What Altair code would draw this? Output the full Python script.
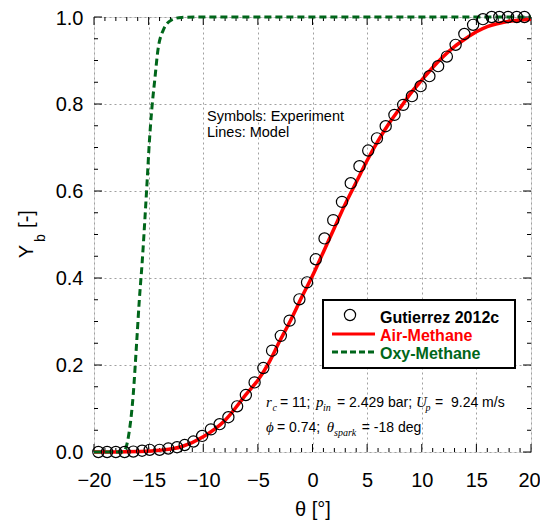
import altair as alt
import pandas as pd

# ---------------- data ----------------
exp_theta = [-19.6, -18.8, -18.0, -17.2, -16.4, -15.6, -14.9, -14.0, -13.2, -12.4,
             -11.7, -10.9, -10.1, -9.3, -8.5, -7.7, -6.9, -6.1, -5.3, -4.5,
             -3.7, -2.9, -2.1, -1.2, -0.5, 0.3, 1.1, 1.9, 2.7, 3.5,
             4.3, 5.1, 5.9, 6.7, 7.5, 8.3, 9.1, 9.9, 10.7, 11.5,
             12.3, 13.1, 13.9, 14.7, 15.6, 16.4, 17.1, 17.9, 18.7, 19.4]
exp_yb = [0.0, 0.0, 0.0, 0.0, 0.001, 0.003, 0.005, 0.005, 0.008, 0.011,
          0.016, 0.024, 0.037, 0.052, 0.064, 0.080, 0.105, 0.131, 0.160, 0.193,
          0.233, 0.267, 0.302, 0.351, 0.390, 0.443, 0.491, 0.533, 0.575, 0.618,
          0.657, 0.693, 0.721, 0.749, 0.775, 0.798, 0.818, 0.841, 0.864, 0.887,
          0.909, 0.936, 0.961, 0.982, 0.995, 1.0, 1.0, 1.0, 1.0, 1.0]

air_theta = [-20, -18, -16, -14, -12, -10, -8, -6, -5, -4, -3, -2, -1, 0, 1, 2, 3, 4, 5,
             6, 7, 8, 9, 10, 11, 12, 13, 14, 15, 16, 17, 18, 19, 20]
air_yb = [0.0, 0.0, 0.001, 0.004, 0.012, 0.035, 0.073, 0.135, 0.165, 0.205, 0.255,
          0.303, 0.355, 0.405, 0.46, 0.515, 0.57, 0.62, 0.67, 0.715, 0.755, 0.79,
          0.825, 0.855, 0.884, 0.91, 0.932, 0.95, 0.966, 0.978, 0.985, 0.99, 0.993, 0.995]

oxy_theta = [-20, -18, -17.3, -17.1, -16.85, -16.4, -16.1, -15.85, -15.58, -15.33,
             -15.12, -14.94, -14.72, -14.42, -14.17, -13.66, -12.9, -12, -10, 20]
oxy_yb = [0.0, 0.0, 0.0, 0.008, 0.035, 0.135, 0.25, 0.35, 0.44, 0.54,
          0.63, 0.71, 0.785, 0.86, 0.92, 0.97, 0.993, 0.999, 1.0, 1.0]

x_major = [-20, -15, -10, -5, 0, 5, 10, 15, 20]
x_minor = [v for v in range(-20, 21) if v % 5 != 0]
y_major = [0.0, 0.2, 0.4, 0.6, 0.8, 1.0]
y_minor = [round(i * 0.05, 2) for i in range(21) if i % 4 != 0]

RED = "#ff0000"
GREEN = "#00661a"
W, H = 437, 435
SANS = "Liberation Sans"
SERIF = "Liberation Serif"

exp_df = pd.DataFrame({"theta": exp_theta, "yb": exp_yb})
air_df = pd.DataFrame({"theta": air_theta, "yb": air_yb})
oxy_df = pd.DataFrame({"theta": oxy_theta, "yb": oxy_yb})
one = pd.DataFrame({"k": [0]})

xs = alt.Scale(domain=[-20, 20], nice=False, zero=False)
ys = alt.Scale(domain=[0, 1], nice=False)

# axis with labels + grid (on points layer)
ax_x_lab = alt.Axis(orient="bottom", values=x_major, ticks=False, tickSize=0, domain=False,
                    labelFontSize=20, labelPadding=18, labelColor="black", labelFlush=False,
                    labelOffset={"condition": {"test": "datum.value >= 20", "value": -2},
                                 "value": 0},
                    grid=True, gridDash=[2, 3], gridColor="#a0a0a0", gridWidth=1,
                    title="θ [°]", titleFontSize=20, titleFontWeight="normal",
                    titleColor="black", titlePadding=9)
ax_y_lab = alt.Axis(orient="left", values=y_major, format=".1f", ticks=False, tickSize=0,
                    domain=False, labelFontSize=20, labelPadding=11, labelColor="black",
                    labelFlush=False,
                    labelOffset={"condition": {"test": "datum.value >= 1", "value": 1.5},
                                 "value": 0},
                    grid=True, gridDash=[2, 3], gridColor="#a0a0a0", gridWidth=1, title=None)


# inward tick marks drawn through the scales
def xticks(values, y0, y1):
    df = pd.DataFrame({"v": values})
    return alt.Chart(df).mark_rule(color="black", strokeWidth=1).encode(
        x=alt.X("v:Q", scale=xs, axis=None), y=alt.value(y0), y2=alt.value(y1))


def yticks(values, x0, x1):
    df = pd.DataFrame({"v": values})
    return alt.Chart(df).mark_rule(color="black", strokeWidth=1).encode(
        y=alt.Y("v:Q", scale=ys, axis=None), x=alt.value(x0), x2=alt.value(x1))


tick_layers = [
    xticks(x_major, H, H - 8), xticks(x_minor, H, H - 4),
    xticks(x_major, 0, 8), xticks(x_minor, 0, 4),
    yticks(y_major, 0, 8), yticks(y_minor, 0, 4),
    yticks(y_major, W, W - 8), yticks(y_minor, W, W - 4),
]

air = alt.Chart(air_df).mark_line(color=RED, strokeWidth=3.5, interpolate="monotone").encode(
    x=alt.X("theta:Q", scale=xs, axis=None),
    y=alt.Y("yb:Q", scale=ys, axis=None),
)
oxy = alt.Chart(oxy_df).mark_line(color=GREEN, strokeWidth=3, strokeDash=[7, 4],
                                  interpolate="monotone").encode(
    x=alt.X("theta:Q", scale=xs, axis=None),
    y=alt.Y("yb:Q", scale=ys, axis=None),
)
pts = alt.Chart(exp_df).mark_point(shape="circle", filled=False, size=125, color="black",
                                   strokeWidth=1.2, opacity=1).encode(
    x=alt.X("theta:Q", scale=xs, axis=ax_x_lab),
    y=alt.Y("yb:Q", scale=ys, axis=ax_y_lab),
)


def txt(s, x, y, size, font=SANS, style="normal", weight="normal", color="black",
        angle=0, align="left", baseline="alphabetic"):
    return alt.Chart(one).mark_text(text=s, font=font, fontSize=size, fontStyle=style,
                                    fontWeight=weight, color=color, angle=angle,
                                    align=align, baseline=baseline).encode(
        x=alt.value(x), y=alt.value(y))


# legend box
leg_box = alt.Chart(one).mark_rect(fill="white", stroke="black", strokeWidth=2).encode(
    x=alt.value(229), x2=alt.value(421), y=alt.value(283), y2=alt.value(351))
leg_pt = alt.Chart(one).mark_point(shape="circle", filled=False, size=125, color="black",
                                   strokeWidth=1.2, opacity=1).encode(
    x=alt.value(256), y=alt.value(298))
leg_red = alt.Chart(one).mark_rule(color=RED, strokeWidth=3).encode(
    x=alt.value(238), x2=alt.value(281), y=alt.value(317))
leg_green = alt.Chart(one).mark_rule(color=GREEN, strokeWidth=3, strokeDash=[6, 3]).encode(
    x=alt.value(238), x2=alt.value(281), y=alt.value(335))

texts = [
    txt("Gutierrez 2012c", 286, 305.7, 16, weight="bold"),
    txt("Air-Methane", 286, 323.5, 16, weight="bold", color=RED),
    txt("Oxy-Methane", 286, 341.5, 16, weight="bold", color=GREEN),
    txt("Symbols: Experiment", 113, 103.7, 14.5),
    txt("Lines: Model", 113, 120.3, 14.5),
    # parameter annotation, line 1
    txt("r", 172, 389.7, 15, font=SERIF, style="italic"),
    txt("c", 178.5, 393.7, 10, font=SERIF, style="italic"),
    txt("= 11;", 186, 389.7, 14),
    txt("p", 222, 389.7, 15, font=SERIF, style="italic"),
    txt("in", 229, 393.7, 10, font=SERIF, style="italic"),
    txt("= 2.429 bar;", 243, 389.7, 14),
    txt("U", 322, 389.7, 15, font=SERIF, style="italic"),
    txt("p", 331.5, 393.7, 10, font=SERIF, style="italic"),
    txt("=\u00a0 9.24 m/s", 341, 389.7, 14),
    # line 2
    txt("\u03d5", 172, 414.7, 15, font=SERIF, style="italic"),
    txt("= 0.74;", 183, 414.7, 14),
    txt("θ", 232.7, 414.7, 15, font=SERIF, style="italic"),
    txt("spark", 240, 418.7, 10, font=SERIF, style="italic"),
    txt("= -18 deg", 267.7, 414.7, 14),
    # y-axis title (rotated)
    txt("Y", -61, 234.5, 20, angle=270, align="center"),
    txt("b", -49, 221, 14, angle=270, align="center"),
    txt("[-]", -61, 202, 20, angle=270, align="center"),
]

chart = alt.layer(*tick_layers, air, oxy, pts, leg_box, leg_pt, leg_red, leg_green,
                  *texts).resolve_axis(
    x="independent", y="independent"
).properties(
    width=W, height=H,
    autosize=alt.AutoSizeParams(type="none"),
    padding={"left": 86, "top": 9, "right": 9, "bottom": 68},
).configure_view(stroke="black", strokeWidth=1.5).configure(font=SANS)

chart.save("out.html", embed_options={"renderer": "svg", "actions": False})
